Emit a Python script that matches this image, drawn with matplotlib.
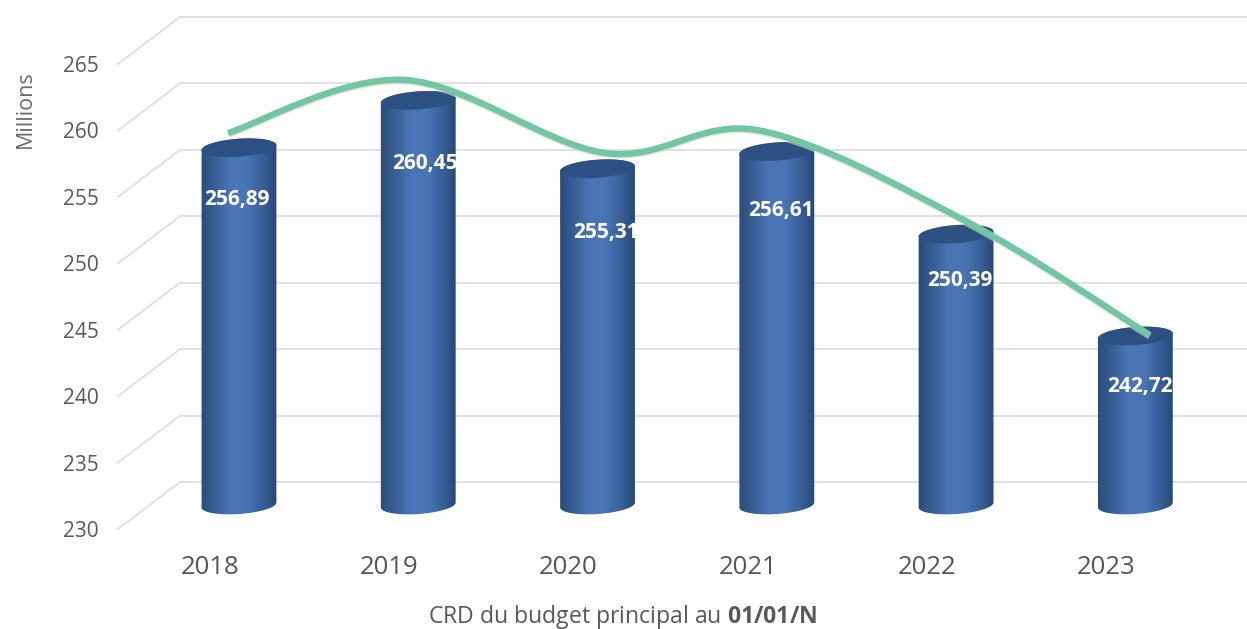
import numpy as np
import matplotlib
matplotlib.use('Agg')
import matplotlib.pyplot as plt
from matplotlib.path import Path
from matplotlib.patches import PathPatch
from matplotlib.transforms import Affine2D, IdentityTransform

plt.rcParams['font.family'] = 'Open Sans'
plt.rcParams['mathtext.fontset'] = 'custom'
plt.rcParams['mathtext.bf'] = 'Open Sans:bold'

years = ['2018', '2019', '2020', '2021', '2022', '2023']
crd = [256.89, 260.45, 255.31, 256.61, 250.39, 242.72]
crd_labels = ['256,89', '260,45', '255,31', '256,61', '250,39', '242,72']
trend_x = [-0.06, 0.92, 2.04, 2.90, 4.05, 5.08]
trend = [258.0, 262.0, 256.5, 258.2, 251.4, 242.8]
y_ticks = [230, 235, 240, 245, 250, 255, 260, 265]

# pixel offsets of the 3D look: wall behind the axes, bars halfway
wall_dx, wall_dy = 62, 47
bar_dx, bar_dy = 29, 24
bar_w = 75
cap_h = 9
tilt = np.radians(4)
label_dx = [-2, 7, 8, 4, 4, 5]
label_dy = [-52, -63, -64, -59, -46, -50]

W, H = 1247, 629
fig = plt.figure(figsize=(W / 100, H / 100), dpi=100, facecolor='white')
ax = fig.add_axes([118 / W, (H - 529) / H, (1196 - 118) / W, (529 - 64) / H])
ax.set_xlim(-0.513, 5.5)
ax.set_ylim(230, 265)
for s in ax.spines.values():
    s.set_visible(False)
ax.set_xticks(range(len(years)), years)
ax.set_yticks(y_ticks)
ax.tick_params(axis='x', length=0, pad=19, labelsize=18.5, labelcolor='#555555')
ax.tick_params(axis='y', length=0, pad=14, labelsize=15, labelcolor='#595959')
ax.set_ylabel('Millions', fontsize=15.5, color='#6a6a6a', y=0.904, labelpad=19)
ax.set_xlabel(r'CRD du budget principal au $\mathbf{01/01/N}$', fontsize=16.6,
              color='#595959', x=0.4685, labelpad=16)

wall = ax.transData + Affine2D().translate(wall_dx, wall_dy)
bar_tr = ax.transData + Affine2D().translate(bar_dx, bar_dy)

# wall gridlines and the diagonals running back from the front edge
grid_kw = dict(color='#dedede', lw=1.3, clip_on=False, zorder=1)
for v in y_ticks:
    ax.plot([-0.513, 5.5], [v, v], transform=wall, **grid_kw)
    p0 = ax.transData.transform((-0.513, v))
    ax.plot([p0[0], p0[0] + wall_dx], [p0[1], p0[1] + wall_dy],
            transform=IdentityTransform(), **grid_kw)


def ellipse(cx, cy, t):
    ex = bar_w / 2 * np.cos(t)
    ey = cap_h * np.sin(t)
    return (cx + ex * np.cos(tilt) - ey * np.sin(tilt),
            cy + ex * np.sin(tilt) + ey * np.cos(tilt))


shade = np.array([[0.16, 0.29, 0.47], [0.22, 0.37, 0.58], [0.29, 0.46, 0.71],
                  [0.29, 0.46, 0.71], [0.22, 0.38, 0.60], [0.15, 0.27, 0.45]])
stops = np.linspace(0, 1, len(shade))
ramp = np.linspace(0, 1, 128)
gradient = np.stack([np.interp(ramp, stops, shade[:, c]) for c in range(3)], axis=1)[None, :, :]

for i, v in enumerate(crd):
    cx, cy = bar_tr.transform((i, v))
    bx, by = bar_tr.transform((i, 230))
    # body: top edge goes over the far side of the cap, bottom follows the near side
    t_top = np.linspace(0, np.pi, 60)
    t_bot = np.linspace(np.pi, 2 * np.pi, 60)
    xs = np.r_[ellipse(cx, cy, t_top)[0], ellipse(bx, by, t_bot)[0]]
    ys = np.r_[ellipse(cx, cy, t_top)[1], ellipse(bx, by, t_bot)[1]]
    body = PathPatch(Path(np.c_[xs, ys]), transform=IdentityTransform(), fc='none', ec='none')
    ax.add_patch(body)
    im = ax.imshow(gradient, aspect='auto', transform=IdentityTransform(), zorder=3,
                   extent=(cx - bar_w / 2 - 2, cx + bar_w / 2 + 2, by - 20, cy + 20))
    im.set_clip_path(body)
    t = np.linspace(0, 2 * np.pi, 120)
    ex, ey = ellipse(cx, cy, t)
    ax.fill(ex, ey, color='#2d5082', transform=IdentityTransform(), zorder=4, clip_on=False, lw=0)
    ax.annotate(crd_labels[i], xy=(i, v), xycoords=bar_tr, xytext=(label_dx[i], label_dy[i]),
                textcoords='offset pixels', ha='center', va='center', color='white',
                fontsize=15, fontweight='bold', zorder=6, annotation_clip=False)

ax.set_xlim(-0.513, 5.5)
ax.set_ylim(230, 265)

# smooth trend curve, bezier segments through each point
pts = bar_tr.transform(np.c_[trend_x, trend])
prev = np.vstack([pts[0], pts[:-1]])
nxt = np.vstack([pts[1:], pts[-1]])
tang = (nxt - prev) / 6
verts = [pts[0]]
codes = [Path.MOVETO]
for k in range(len(pts) - 1):
    verts += [pts[k] + tang[k], pts[k + 1] - tang[k + 1], pts[k + 1]]
    codes += [Path.CURVE4] * 3
curve = Path(np.array(verts), codes)
ax.add_patch(PathPatch(curve, fc='none', ec='#d8cfcf', lw=4.6, alpha=0.6, capstyle='butt', zorder=5,
                       transform=Affine2D().translate(0, -1.5), clip_on=False))
ax.add_patch(PathPatch(curve, fc='none', ec='#70c7a1', lw=4.6, capstyle='butt', zorder=5,
                       transform=IdentityTransform(), clip_on=False))

fig.savefig('out.png', dpi=100, facecolor='white')
